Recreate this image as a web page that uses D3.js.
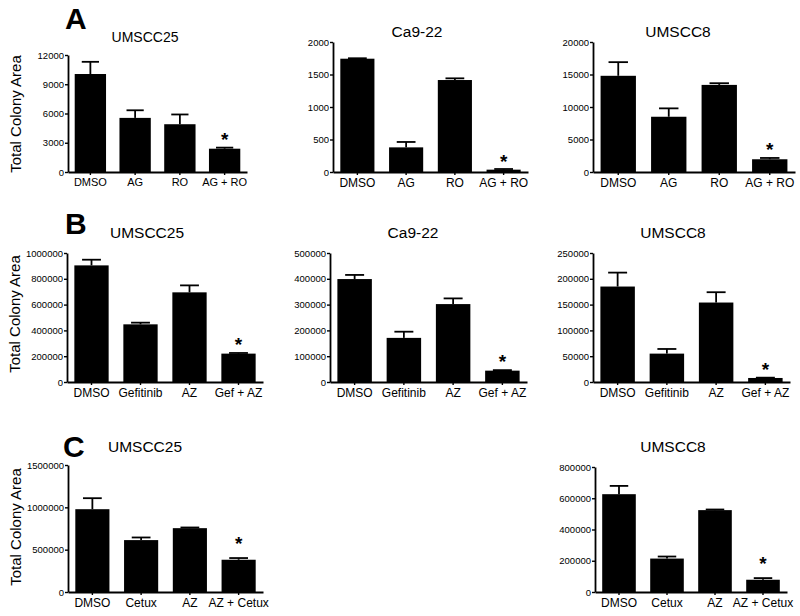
<!DOCTYPE html>
<html><head><meta charset="utf-8">
<script src="https://cdn.jsdelivr.net/npm/d3@7/dist/d3.min.js"></script>
<style>body{margin:0;background:#fff}svg{display:block}</style>
</head><body><svg id="c" width="800" height="616"></svg>
<script>
// ---- data ----
const catsA = ["DMSO", "AG", "RO", "AG + RO"];
const catsB = ["DMSO", "Gefitinib", "AZ", "Gef + AZ"];
const catsC = ["DMSO", "Cetux", "AZ", "AZ + Cetux"];

const meanA_UMSCC25 = [10050, 5550, 4900, 2390];
const semA_UMSCC25  = [1250, 780, 1000, 110];
const ticksA_UMSCC25 = [0, 3000, 6000, 9000, 12000];

const meanA_Ca922 = [1743, 379, 1415, 36];
const semA_Ca922  = [7, 83, 26, 10];
const ticksA_Ca922 = [0, 500, 1000, 1500, 2000];

const meanA_UMSCC8 = [14800, 8500, 13400, 1960];
const semA_UMSCC8  = [2100, 1290, 260, 200];
const ticksA_UMSCC8 = [0, 5000, 10000, 15000, 20000];

const meanB_UMSCC25 = [904000, 447000, 695000, 220000];
const semB_UMSCC25  = [44000, 13000, 54000, 5000];
const ticksB_UMSCC25 = [0, 200000, 400000, 600000, 800000, 1000000];

const meanB_Ca922 = [399000, 171000, 302000, 44000];
const semB_Ca922  = [16000, 24000, 22000, 2000];
const ticksB_Ca922 = [0, 100000, 200000, 300000, 400000, 500000];

const meanB_UMSCC8 = [185000, 55000, 154000, 7800];
const semB_UMSCC8  = [27000, 9000, 20000, 600];
const ticksB_UMSCC8 = [0, 50000, 100000, 150000, 200000, 250000];

const meanC_UMSCC25 = [978000, 613000, 754000, 381000];
const semC_UMSCC25  = [130000, 31000, 8000, 20000];
const ticksC_UMSCC25 = [0, 500000, 1000000, 1500000];

const meanC_UMSCC8 = [626000, 214000, 524000, 78500];
const semC_UMSCC8  = [53000, 13000, 4000, 10500];
const ticksC_UMSCC8 = [0, 200000, 400000, 600000, 800000];

const sigIndex = 3; // bar marked with asterisk
const yLabel = "Total Colony Area";
const rowLetters = ["A", "B", "C"];

// ---- layout ----
const panels = [
  {title:"UMSCC25", cats:catsA, mean:meanA_UMSCC25, sem:semA_UMSCC25, ticks:ticksA_UMSCC25, x0:68,  x1:247, yTop:55,  y0:172, tx:145, ty:42,  star:2, ts:14,   xs:11},
  {title:"Ca9-22",  cats:catsA, mean:meanA_Ca922,   sem:semA_Ca922,   ticks:ticksA_Ca922,   x0:333, x1:528, yTop:42,  y0:172, tx:417, ty:37,  star:1, ts:15.5, xs:12},
  {title:"UMSCC8",  cats:catsA, mean:meanA_UMSCC8,  sem:semA_UMSCC8,  ticks:ticksA_UMSCC8,  x0:593, x1:795, yTop:42,  y0:172, tx:678, ty:37,  star:2, ts:15.5, xs:12},
  {title:"UMSCC25", cats:catsB, mean:meanB_UMSCC25, sem:semB_UMSCC25, ticks:ticksB_UMSCC25, x0:67,  x1:263, yTop:253, y0:382, tx:147, ty:238, star:2, ts:15.5, xs:12},
  {title:"Ca9-22",  cats:catsB, mean:meanB_Ca922,   sem:semB_Ca922,   ticks:ticksB_Ca922,   x0:330, x1:527, yTop:253, y0:382, tx:413, ty:238, star:2, ts:15.5, xs:12},
  {title:"UMSCC8",  cats:catsB, mean:meanB_UMSCC8,  sem:semB_UMSCC8,  ticks:ticksB_UMSCC8,  x0:593, x1:790, yTop:253, y0:382, tx:673, ty:238, star:2, ts:15.5, xs:12},
  {title:"UMSCC25", cats:catsC, mean:meanC_UMSCC25, sem:semC_UMSCC25, ticks:ticksC_UMSCC25, x0:68,  x1:263, yTop:465, y0:592, tx:145, ty:452, star:8, ts:15.5, xs:12},
  {title:"UMSCC8",  cats:catsC, mean:meanC_UMSCC8,  sem:semC_UMSCC8,  ticks:ticksC_UMSCC8,  x0:595, x1:787, yTop:467, y0:592, tx:673, ty:452, star:8, ts:15.5, xs:12}
];
const letterPos = [{x:65, y:29}, {x:65, y:234}, {x:63, y:457}];
const yLabelPos = [{x:21, y:114}, {x:20, y:314}, {x:21, y:527}];

const FONT = "'Liberation Sans', Arial, Helvetica, sans-serif";
const svg = d3.select("#c").attr("font-family", FONT);
svg.append("rect").attr("width", 800).attr("height", 616).attr("fill", "#fff");

panels.forEach(p => {
  const g = svg.append("g");
  const x = d3.scaleBand().domain(p.cats).range([p.x0, p.x1]).paddingInner(0.3).paddingOuter(0.15);
  const y = d3.scaleLinear().domain([0, p.ticks[p.ticks.length - 1]]).range([p.y0, p.yTop]);
  const data = p.cats.map((c, i) => ({c, m: p.mean[i], s: p.sem[i], i}));

  // bars
  g.selectAll("rect.bar").data(data).join("rect").attr("class", "bar")
    .attr("x", d => x(d.c)).attr("width", x.bandwidth())
    .attr("y", d => y(d.m)).attr("height", d => y(0) - y(d.m))
    .attr("fill", "#000");

  // error bars (upper only)
  const capW = x.bandwidth() * 0.55;
  g.selectAll("line.err").data(data).join("line").attr("class", "err")
    .attr("x1", d => x(d.c) + x.bandwidth() / 2).attr("x2", d => x(d.c) + x.bandwidth() / 2)
    .attr("y1", d => y(d.m)).attr("y2", d => y(d.m + d.s))
    .attr("stroke", "#000").attr("stroke-width", 1.8);
  g.selectAll("line.cap").data(data).join("line").attr("class", "cap")
    .attr("x1", d => x(d.c) + x.bandwidth() / 2 - capW / 2).attr("x2", d => x(d.c) + x.bandwidth() / 2 + capW / 2)
    .attr("y1", d => y(d.m + d.s)).attr("y2", d => y(d.m + d.s))
    .attr("stroke", "#000").attr("stroke-width", 1.8);

  // asterisk
  const sd = data[sigIndex];
  g.append("text").attr("x", x(sd.c) + x.bandwidth() / 2).attr("y", y(sd.m + sd.s) - p.star)
    .attr("text-anchor", "middle").attr("font-size", 19).attr("font-weight", "bold").text("*");

  // axes
  const ya = g.append("g").attr("transform", `translate(${p.x0},0)`)
    .call(d3.axisLeft(y).tickValues(p.ticks).tickFormat(d3.format("d")).tickSize(3).tickSizeOuter(0).tickPadding(1));
  ya.selectAll("text").attr("font-size", 9.5).attr("font-family", FONT).attr("fill", "#000");
  ya.select(".domain").attr("stroke-width", 1.8);
  ya.selectAll(".tick line").attr("stroke-width", 1.4);

  const xa = g.append("g").attr("transform", `translate(0,${p.y0})`)
    .call(d3.axisBottom(x).tickSize(3).tickSizeOuter(0).tickPadding(3.5));
  xa.selectAll("text").attr("font-size", p.xs).attr("font-family", FONT).attr("fill", "#000");
  xa.select(".domain").attr("stroke-width", 1.8);
  xa.selectAll(".tick line").attr("stroke-width", 1.4);

  // title
  g.append("text").attr("x", p.tx).attr("y", p.ty).attr("text-anchor", "middle")
    .attr("font-size", p.ts).text(p.title);
});

rowLetters.forEach((L, i) => {
  svg.append("text").attr("x", letterPos[i].x).attr("y", letterPos[i].y)
    .attr("font-size", 30).attr("font-weight", "bold").text(L);
  svg.append("text").attr("transform", `translate(${yLabelPos[i].x},${yLabelPos[i].y}) rotate(-90)`)
    .attr("text-anchor", "middle").attr("font-size", 15).text(yLabel);
});
</script></body></html>
